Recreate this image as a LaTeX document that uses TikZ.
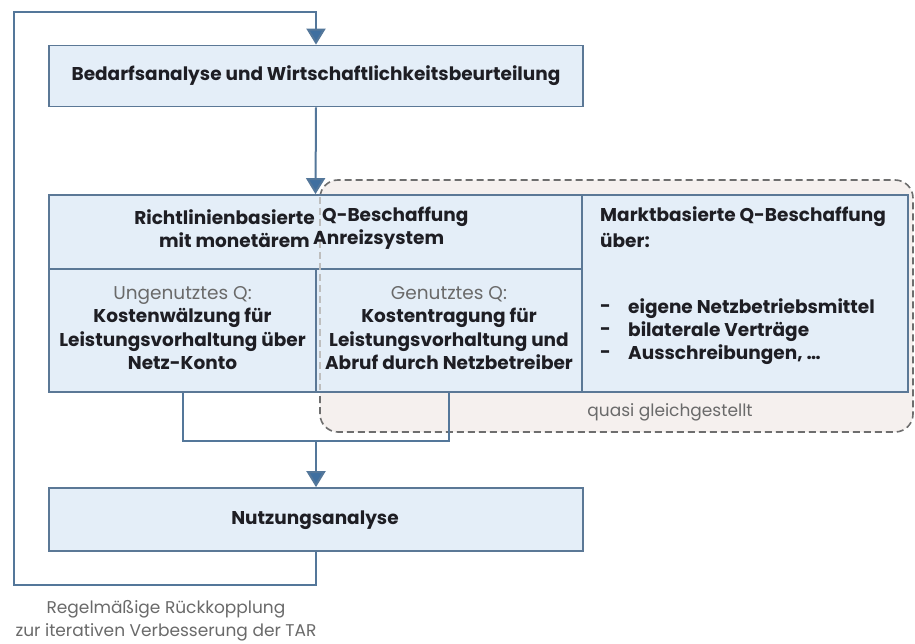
\documentclass[tikz,border=0pt]{standalone}
\usepackage{fontspec}
\setmainfont{Poppins}
\usetikzlibrary{arrows.meta}
\definecolor{boxfill}{HTML}{E4EEF8}
\definecolor{boxline}{HTML}{5B7896}
\definecolor{conn}{HTML}{54779A}
\definecolor{arrcol}{HTML}{3F6FA0}
\definecolor{dashcol}{HTML}{6E6E6E}
\definecolor{beige}{HTML}{F5F0EE}
\definecolor{txt}{HTML}{1E1E24}
\definecolor{graytxt}{HTML}{6A6A6A}
\tikzset{
  cell/.style={draw=boxline, line width=1.8pt, fill=boxfill, inner sep=0pt},
  connline/.style={draw=conn, line width=2pt},
  arr/.style={connline, -{Triangle[width=19pt,length=16pt,fill=arrcol]}},
  bt/.style={font=\fontsize{18.5}{23.5}\selectfont\bfseries, text=txt, inner sep=0pt},
  rt/.style={font=\fontsize{17}{23}\selectfont, text=graytxt, inner sep=0pt},
}
\begin{document}
\begin{tikzpicture}[x=1pt,y=-1pt]
\useasboundingbox[fill=white] (0,0) rectangle (915,644);
% dashed region
\draw[dashcol, line width=1.6pt, dash pattern=on 7pt off 4pt, fill=beige, rounded corners=18pt]
  (320,180) rectangle (913,432);
% boxes
\node[cell, minimum width=534pt, minimum height=61pt] (bed) at (316,76) {};
\node[cell, minimum width=533pt, minimum height=74pt] (hdr) at (315.5,232) {};
\node[cell, minimum width=267pt, minimum height=123pt] (ll) at (182.5,330.5) {};
\node[cell, minimum width=266pt, minimum height=123pt] (lm) at (449,330.5) {};
\node[cell, minimum width=326pt, minimum height=197pt] (rc) at (745,293.5) {};
\node[cell, minimum width=534pt, minimum height=63pt] (nut) at (316,519.5) {};
% faint dashed line across box
\draw[dashcol!45, line width=1.4pt, dash pattern=on 7pt off 4pt] (320,197) -- (320,390);
% texts
\node[bt] (tbed) at (316,76) {Bedarfsanalyse und Wirtschaftlichkeitsbeurteilung};
\node[bt, anchor=east] (h1a) at (315,217) {Richtlinienbasierte};
\node[bt, anchor=west] (h1b) at (322,217) {Q-Beschaffung};
\node[bt, anchor=east] (h2a) at (310,240) {mit monetärem};
\node[bt, anchor=west] (h2b) at (313,240) {Anreizsystem};
\node[bt, align=center] (tll) at (182.5,328) {\textcolor{graytxt}{\mdseries Ungenutztes Q:}\\Kostenwälzung für\\Leistungsvorhaltung über\\Netz-Konto};
\node[bt, align=center] (tlm) at (449,328) {\textcolor{graytxt}{\mdseries Genutztes Q:}\\Kostentragung für\\Leistungsvorhaltung und\\Abruf durch Netzbetreiber};
\node[bt, anchor=west] (trc1) at (600,217) {Marktbasierte Q-Beschaffung};
\node[bt, anchor=west] (trc2) at (600,240) {über:};
\node[bt, anchor=west] (b1) at (600,309) {-};
\node[bt, anchor=west] (b2) at (600,332) {-};
\node[bt, anchor=west] (b3) at (600,355) {-};
\node[bt, anchor=west] (t1) at (628,309) {eigene Netzbetriebsmittel};
\node[bt, anchor=west] (t2) at (628,332) {bilaterale Verträge};
\node[bt, anchor=west] (t3) at (628,355) {Ausschreibungen, …};
\node[rt] (quasi) at (670,412) {quasi gleichgestellt};
\node[bt] (tnut) at (315,520) {Nutzungsanalyse};
\node[rt, align=center] (fbtxt) at (166,621) {Regelmäßige Rückkopplung\\zur iterativen Verbesserung der TAR};
% connectors
\coordinate (fbA) at (14,585);
\coordinate (fbB) at (14,12);
\coordinate (join) at (316,441);
\draw[arr] (nut.south) |- (fbA) -- (fbB) -| (bed.north);
\draw[arr] (bed.south) -- (hdr.north);
\draw[connline] (ll.south) |- (join) -| (lm.south);
\draw[arr] (join) -- (nut.north);
\end{tikzpicture}
\end{document}
